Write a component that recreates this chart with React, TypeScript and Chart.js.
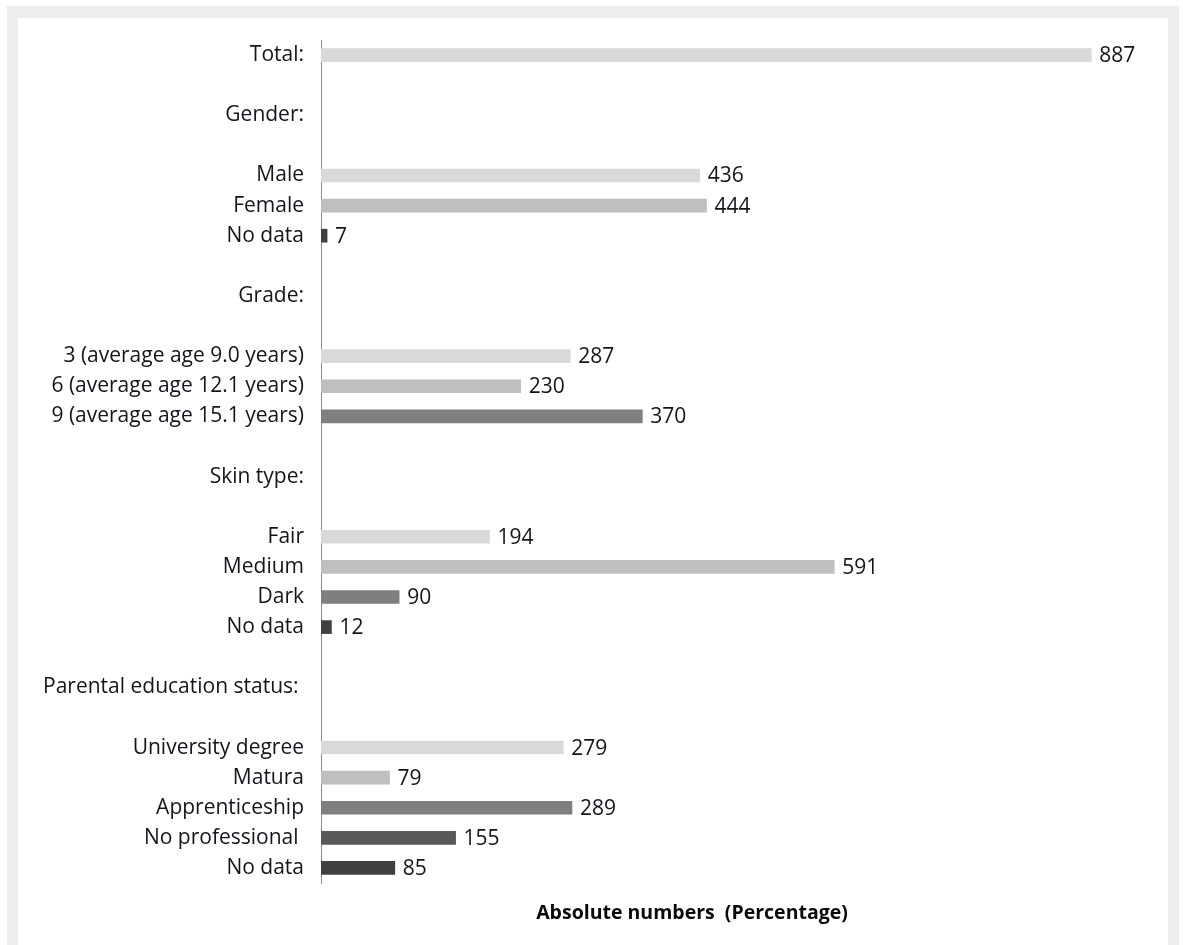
import React, { useEffect, useRef } from "react";
import { Chart, registerables } from "chart.js";

Chart.register(...registerables);

const categories: string[] = [
  "Total:", "", "Gender:", "", "Male", "Female", "No data", "",
  "Grade:", "", "3 (average age 9.0 years)", "6 (average age 12.1 years)", "9 (average age 15.1 years)", "",
  "Skin type:", "", "Fair", "Medium", "Dark", "No data", "",
  "Parental education status: ", "", "University degree", "Matura", "Apprenticeship", "No professional ", "No data",
];

const values: (number | null)[] = [
  887, null, null, null, 436, 444, 7, null,
  null, null, 287, 230, 370, null,
  null, null, 194, 591, 90, 12, null,
  null, null, 279, 79, 289, 155, 85,
];

const barColors: string[] = [
  "#d9d9d9", "", "", "", "#d9d9d9", "#bfbfbf", "#404040", "",
  "", "", "#d9d9d9", "#bfbfbf", "#7f7f7f", "",
  "", "", "#d9d9d9", "#bfbfbf", "#7f7f7f", "#404040", "",
  "", "", "#d9d9d9", "#bfbfbf", "#7f7f7f", "#595959", "#404040",
];

const axisTitle = "Absolute numbers  (Percentage)";

const FONT = "'Open Sans', sans-serif";
const TEXT = "#14141c";

const valueLabels = {
  id: "valueLabels",
  afterDatasetsDraw(chart: any) {
    const ctx = chart.ctx;
    const meta = chart.getDatasetMeta(0);
    ctx.save();
    ctx.font = `21px ${FONT}`;
    ctx.fillStyle = TEXT;
    ctx.textAlign = "left";
    ctx.textBaseline = "middle";
    meta.data.forEach((el: any, i: number) => {
      const v = values[i];
      if (v === null || v === undefined) return;
      ctx.fillText(String(v), el.x + 8, el.y + 1);
    });
    ctx.restore();
  },
};

const bottomTitle = {
  id: "bottomTitle",
  afterDraw(chart: any) {
    const ctx = chart.ctx;
    ctx.save();
    ctx.font = `bold 19.5px ${FONT}`;
    ctx.fillStyle = "#0a0a0a";
    ctx.textAlign = "center";
    ctx.textBaseline = "middle";
    ctx.fillText(axisTitle, 674, 895);
    ctx.restore();
  },
};

export default function App() {
  const ref = useRef<HTMLCanvasElement | null>(null);
  useEffect(() => {
    if (!ref.current) return;
    const chart = new Chart(ref.current, {
      type: "bar",
      data: {
        labels: categories,
        datasets: [
          {
            data: values as any,
            backgroundColor: barColors,
            barThickness: 13,
            borderWidth: 0,
          },
        ],
      },
      plugins: [valueLabels, bottomTitle],
      options: {
        indexAxis: "y",
        animation: false,
        responsive: false,
        maintainAspectRatio: false,
        layout: { padding: { top: 22, bottom: 62, left: 0, right: 22 } },
        plugins: {
          legend: { display: false },
          tooltip: { enabled: false },
          title: { display: false },
        },
        scales: {
          x: {
            display: false,
            min: 0,
            max: 950,
          },
          y: {
            grid: { display: false, drawTicks: false },
            border: { display: true, color: "#8a8a8a", width: 1 },
            ticks: {
              autoSkip: false,
              padding: 17,
              color: TEXT,
              font: { family: FONT, size: 21 },
            },
            afterFit(scale: any) {
              scale.width = 303;
              scale.paddingTop = 0;
              scale.paddingBottom = 0;
            },
          },
        },
      },
    });
    return () => chart.destroy();
  }, []);

  return (
    <div
      style={{
        position: "absolute",
        left: 7,
        top: 6,
        width: 1172,
        height: 939,
        background: "#eeeeee",
        boxSizing: "border-box",
        paddingLeft: 11,
        paddingTop: 12,
        paddingRight: 11,
      }}
    >
      <div style={{ background: "#ffffff", width: 1150, height: 927 }}>
        <canvas ref={ref} width={1150} height={927} style={{ display: "block" }} />
      </div>
    </div>
  );
}
